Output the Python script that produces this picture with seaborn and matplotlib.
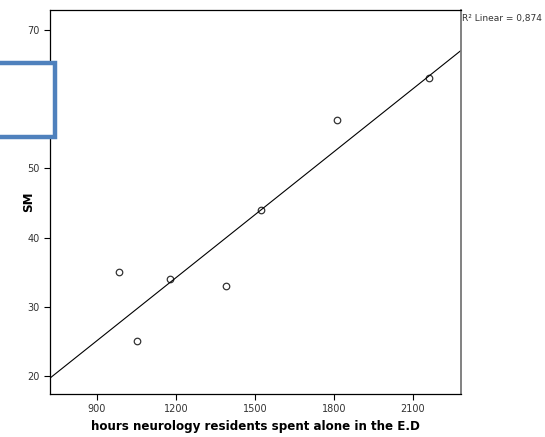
import matplotlib
matplotlib.use('Agg')
import matplotlib.pyplot as plt
import seaborn as sns
import pandas as pd
import numpy as np
from matplotlib.patches import Rectangle

# data
hours = [984, 1052, 1177, 1390, 1523, 1811, 2161]
sm = [35, 25, 34, 33, 44, 57, 63]
x_ticks = [900, 1200, 1500, 1800, 2100]
y_ticks = [20, 30, 40, 50, 60, 70]

df = pd.DataFrame({'hours': hours, 'SM': sm})

sns.set_style('white')
plt.rcParams['font.family'] = ['DejaVu Sans']

fig = plt.figure(figsize=(5.45, 4.37), dpi=100)
ax = fig.add_axes([50 / 545, 1 - 394 / 437, 411 / 545, 384 / 437])
ax.set_xlim(722, 2282)
ax.set_ylim(17.4, 72.9)

sns.regplot(data=df, x='hours', y='SM', ax=ax, ci=None, truncate=False,
            scatter_kws=dict(facecolors='white', edgecolors='black', s=22, linewidths=0.9),
            line_kws=dict(color='black', linewidth=0.8))
ax.set_xlim(722, 2282)
ax.set_ylim(17.4, 72.9)

ax.set_xticks(x_ticks)
ax.set_yticks(y_ticks)
ax.tick_params(axis='both', which='major', labelsize=7, length=4, width=0.8,
               direction='out', color='black', labelcolor='#333333')
ax.tick_params(left=True, bottom=True)

for side in ['left', 'bottom', 'top']:
    ax.spines[side].set_color('black')
    ax.spines[side].set_linewidth(0.9)
ax.spines['right'].set_color('#777777')
ax.spines['right'].set_linewidth(1.3)

ax.set_xlabel('hours neurology residents spent alone in the E.D', fontsize=8.6,
              fontweight='bold', color='black', labelpad=4)
ax.set_ylabel('SM', fontsize=8.6, fontweight='bold', color='black')
ax.yaxis.set_label_coords(-0.037, 0.5)

fig.text(462 / 545, 1 - 18 / 437, 'R² Linear = 0,874', fontsize=6.5,
         color='#333333', va='center', ha='left')

# blue highlight box overlay (white filled, hides what is beneath)
fig.patches.append(Rectangle((-5 / 545, 1 - 137 / 437), 60 / 545, 74 / 437,
                             transform=fig.transFigure, facecolor='white',
                             edgecolor='#4f81bd', linewidth=3.2, zorder=10))

fig.savefig('out.png', dpi=100)
